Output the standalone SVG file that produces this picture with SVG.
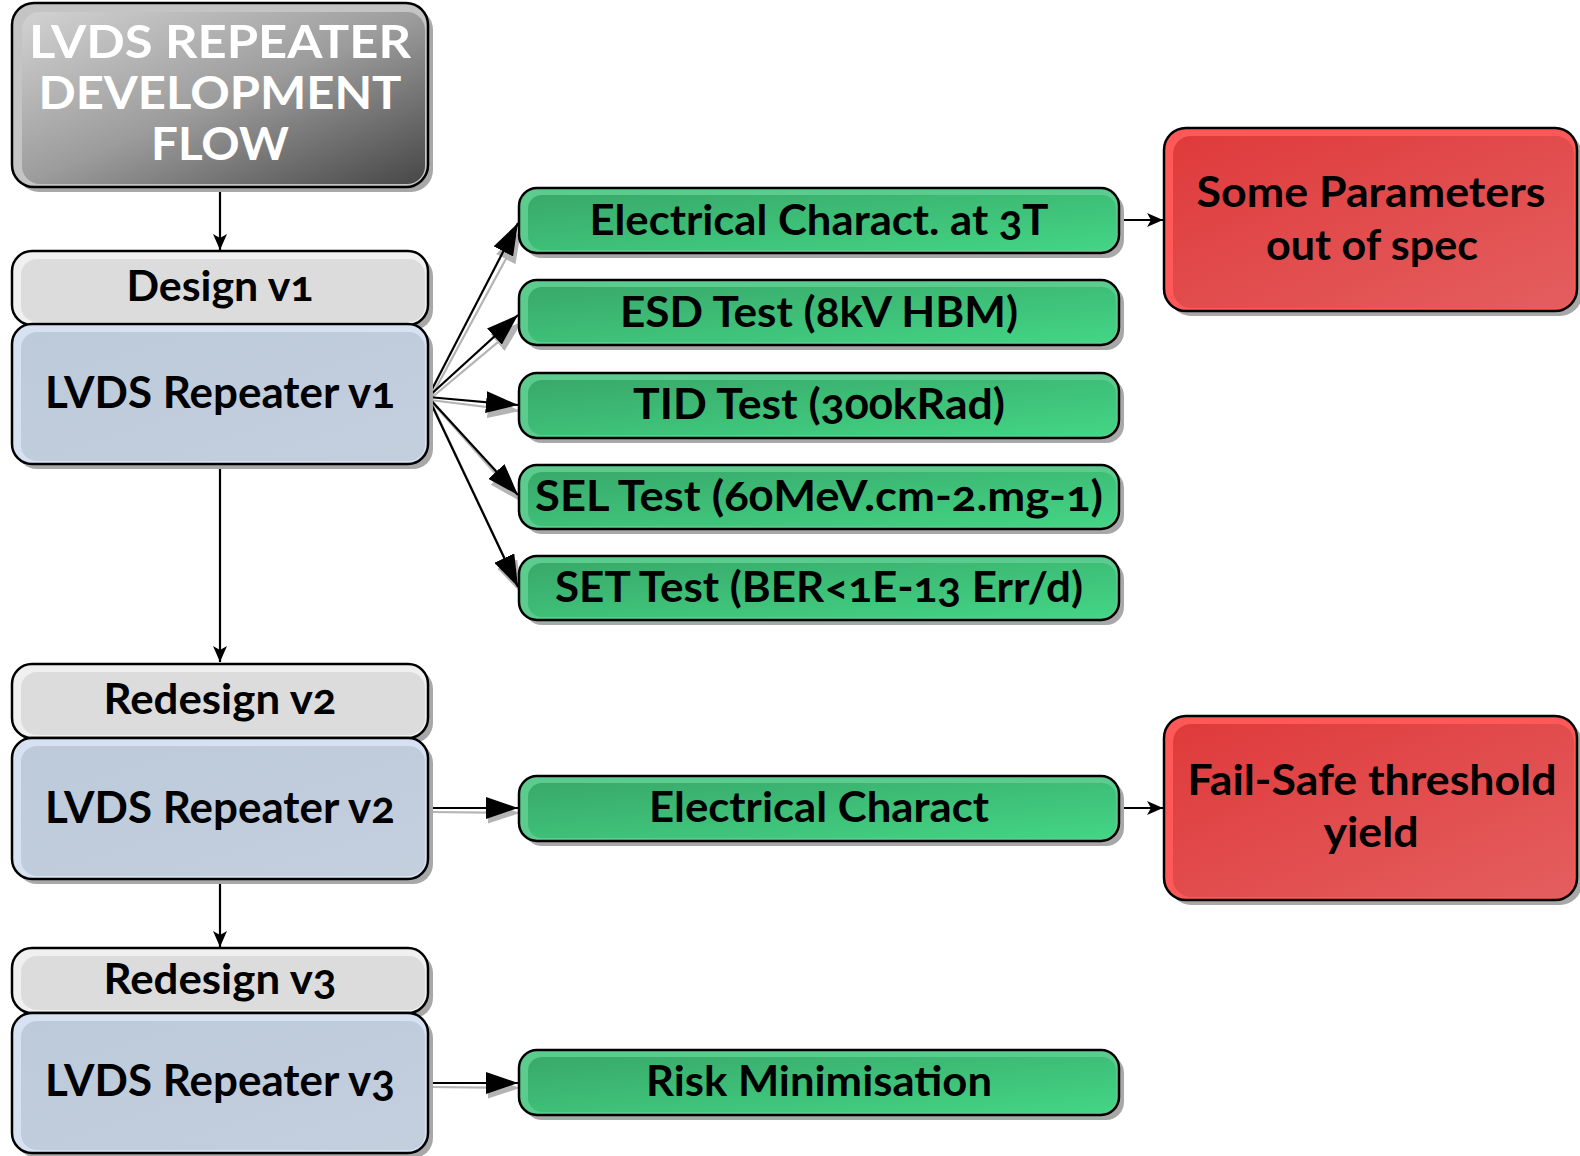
<svg xmlns="http://www.w3.org/2000/svg" width="1580" height="1156" viewBox="0 0 1580 1156">
  <style>
    .t { font-family: Lato, "Open Sans", "DejaVu Sans", sans-serif; font-weight: bold; fill: #000; text-anchor: middle; font-variant-numeric: oldstyle-nums; }
    .tw { fill: #ffffff; }
    .edge { fill: none; stroke: #000; stroke-width: 2.5; }
    .shadow { fill: #a8a8a8; }
    .link { fill: none; stroke: #000; stroke-width: 2.2; }
    .linkS { fill: none; stroke: #b4b4b4; stroke-width: 2.2; }
  </style>
  <defs>
    <linearGradient id="gTitle" x1="0" y1="0" x2="1" y2="1">
      <stop offset="0" stop-color="#d2d2d2"/>
      <stop offset="0.5" stop-color="#9c9c9c"/>
      <stop offset="1" stop-color="#474747"/>
    </linearGradient>
    <linearGradient id="gBlue" x1="0" y1="0" x2="1" y2="1">
      <stop offset="0" stop-color="#bccada"/>
      <stop offset="1" stop-color="#c4cfde"/>
    </linearGradient>
    <linearGradient id="gGreen" x1="0" y1="0" x2="1" y2="1">
      <stop offset="0" stop-color="#39a96a"/>
      <stop offset="1" stop-color="#43d585"/>
    </linearGradient>
    <linearGradient id="gRed" x1="0" y1="0" x2="1" y2="1">
      <stop offset="0" stop-color="#df3a3b"/>
      <stop offset="1" stop-color="#e45e5f"/>
    </linearGradient>
    <marker id="bigHead" markerUnits="userSpaceOnUse" markerWidth="32" markerHeight="22" refX="32" refY="11" orient="auto">
      <path d="M0,0 L32,11 L0,22 z" fill="#000"/>
    </marker>
    <marker id="bigHeadS" markerUnits="userSpaceOnUse" markerWidth="32" markerHeight="22" refX="32" refY="11" orient="auto">
      <path d="M0,0 L32,11 L0,22 z" fill="#b4b4b4"/>
    </marker>
    <marker id="smallHead" markerUnits="userSpaceOnUse" markerWidth="16" markerHeight="14" refX="16" refY="7" orient="auto">
      <path d="M0,0 L16,7 L0,14 L4,7 z" fill="#000"/>
    </marker>
  </defs>

  <rect width="1580" height="1156" fill="#ffffff"/>

  <!-- connectors -->
  <g id="connectors">
    <!-- soft copies under the fan-out arrows -->
    <line class="linkS" x1="430" y1="399" x2="521" y2="231" marker-end="url(#bigHeadS)"/>
    <line class="linkS" x1="430" y1="399" x2="522" y2="322" marker-end="url(#bigHeadS)"/>
    <line class="linkS" x1="430" y1="400" x2="520" y2="411" marker-end="url(#bigHeadS)"/>
    <line class="linkS" x1="430" y1="400" x2="520" y2="501" marker-end="url(#bigHeadS)"/>
    <line class="linkS" x1="430" y1="400" x2="521" y2="593" marker-end="url(#bigHeadS)"/>
    <line class="linkS" x1="430" y1="812" x2="520" y2="813" marker-end="url(#bigHeadS)"/>
    <line class="linkS" x1="430" y1="1087" x2="520" y2="1088" marker-end="url(#bigHeadS)"/>

    <line class="link" x1="220" y1="188" x2="220" y2="250" marker-end="url(#smallHead)"/>
    <line class="link" x1="220" y1="464" x2="220" y2="662" marker-end="url(#smallHead)"/>
    <line class="link" x1="220" y1="879" x2="220" y2="947" marker-end="url(#smallHead)"/>

    <line class="link" x1="428" y1="397" x2="518" y2="223" marker-end="url(#bigHead)"/>
    <line class="link" x1="428" y1="397" x2="518" y2="315" marker-end="url(#bigHead)"/>
    <line class="link" x1="428" y1="397" x2="518" y2="405" marker-end="url(#bigHead)"/>
    <line class="link" x1="428" y1="397" x2="518" y2="495" marker-end="url(#bigHead)"/>
    <line class="link" x1="428" y1="397" x2="518" y2="587" marker-end="url(#bigHead)"/>
    <line class="link" x1="428" y1="808" x2="518" y2="808" marker-end="url(#bigHead)"/>
    <line class="link" x1="428" y1="1083" x2="518" y2="1083" marker-end="url(#bigHead)"/>

    <line class="link" x1="1119" y1="220" x2="1163" y2="220" marker-end="url(#smallHead)"/>
    <line class="link" x1="1119" y1="808" x2="1163" y2="808" marker-end="url(#smallHead)"/>
  </g>

  <!-- title -->
  <g id="title">
    <rect class="shadow" x="17" y="8" width="416" height="184" rx="22"/>
    <rect x="12" y="3" width="416" height="184" rx="22" fill="#c4c4c4"/>
    <rect x="22" y="12" width="403" height="172" rx="18" fill="url(#gTitle)"/>
    <rect class="edge" x="12" y="3" width="416" height="184" rx="22"/>
    <text class="t tw" x="220" y="58" font-size="46" textLength="382" lengthAdjust="spacingAndGlyphs">LVDS REPEATER</text>
    <text class="t tw" x="220" y="109" font-size="46" textLength="363" lengthAdjust="spacingAndGlyphs">DEVELOPMENT</text>
    <text class="t tw" x="220" y="160" font-size="46" textLength="138" lengthAdjust="spacingAndGlyphs">FLOW</text>
  </g>

  <!-- version 1 -->
  <g id="design-v1">
    <rect class="shadow" x="17" y="256" width="416" height="74" rx="20"/>
    <rect x="12" y="251" width="416" height="74" rx="20" fill="#f0f0f0"/>
    <rect x="21" y="259" width="404" height="63" rx="16" fill="#dcdcdc"/>
    <rect class="edge" x="12" y="251" width="416" height="74" rx="20"/>
    <text class="t" x="220" y="301" font-size="42" textLength="187" lengthAdjust="spacingAndGlyphs">Design v1</text>
  </g>
  <g id="repeater-v1">
    <rect class="shadow" x="17" y="329" width="416" height="140" rx="20"/>
    <rect x="12" y="324" width="416" height="140" rx="20" fill="#d6e2f2"/>
    <rect x="21" y="332" width="404" height="129" rx="16" fill="url(#gBlue)"/>
    <rect class="edge" x="12" y="324" width="416" height="140" rx="20"/>
    <text class="t" x="220" y="408" font-size="43" textLength="350" lengthAdjust="spacingAndGlyphs">LVDS Repeater v1</text>
  </g>

  <!-- version 2 -->
  <g id="redesign-v2">
    <rect class="shadow" x="17" y="669" width="416" height="74" rx="20"/>
    <rect x="12" y="664" width="416" height="74" rx="20" fill="#f0f0f0"/>
    <rect x="21" y="672" width="404" height="63" rx="16" fill="#dcdcdc"/>
    <rect class="edge" x="12" y="664" width="416" height="74" rx="20"/>
    <text class="t" x="220" y="714" font-size="42" textLength="233" lengthAdjust="spacingAndGlyphs">Redesign v2</text>
  </g>
  <g id="repeater-v2">
    <rect class="shadow" x="17" y="743" width="416" height="141" rx="20"/>
    <rect x="12" y="738" width="416" height="141" rx="20" fill="#d6e2f2"/>
    <rect x="21" y="746" width="404" height="130" rx="16" fill="url(#gBlue)"/>
    <rect class="edge" x="12" y="738" width="416" height="141" rx="20"/>
    <text class="t" x="220" y="823" font-size="43" textLength="350" lengthAdjust="spacingAndGlyphs">LVDS Repeater v2</text>
  </g>

  <!-- version 3 -->
  <g id="redesign-v3">
    <rect class="shadow" x="17" y="953" width="416" height="65" rx="20"/>
    <rect x="12" y="948" width="416" height="65" rx="20" fill="#f0f0f0"/>
    <rect x="21" y="956" width="404" height="54" rx="16" fill="#dcdcdc"/>
    <rect class="edge" x="12" y="948" width="416" height="65" rx="20"/>
    <text class="t" x="220" y="994" font-size="42" textLength="233" lengthAdjust="spacingAndGlyphs">Redesign v3</text>
  </g>
  <g id="repeater-v3">
    <rect class="shadow" x="17" y="1018" width="416" height="140" rx="20"/>
    <rect x="12" y="1013" width="416" height="140" rx="20" fill="#d6e2f2"/>
    <rect x="21" y="1021" width="404" height="129" rx="16" fill="url(#gBlue)"/>
    <rect class="edge" x="12" y="1013" width="416" height="140" rx="20"/>
    <text class="t" x="220" y="1096" font-size="43" textLength="350" lengthAdjust="spacingAndGlyphs">LVDS Repeater v3</text>
  </g>

  <!-- test steps -->
  <g id="elec-3t">
    <rect class="shadow" x="524" y="193" width="600" height="65" rx="18"/>
    <rect x="519" y="188" width="600" height="65" rx="18" fill="#5ccc8e"/>
    <rect x="528" y="195" width="588" height="55" rx="14" fill="url(#gGreen)"/>
    <rect class="edge" x="519" y="188" width="600" height="65" rx="18"/>
    <text class="t" x="819" y="235" font-size="42" textLength="459" lengthAdjust="spacingAndGlyphs">Electrical Charact. at 3T</text>
  </g>
  <g id="esd">
    <rect class="shadow" x="524" y="285" width="600" height="65" rx="18"/>
    <rect x="519" y="280" width="600" height="65" rx="18" fill="#5ccc8e"/>
    <rect x="528" y="287" width="588" height="55" rx="14" fill="url(#gGreen)"/>
    <rect class="edge" x="519" y="280" width="600" height="65" rx="18"/>
    <text class="t" x="819" y="327" font-size="42" textLength="398" lengthAdjust="spacingAndGlyphs">ESD Test (8kV HBM)</text>
  </g>
  <g id="tid">
    <rect class="shadow" x="524" y="378" width="600" height="65" rx="18"/>
    <rect x="519" y="373" width="600" height="65" rx="18" fill="#5ccc8e"/>
    <rect x="528" y="380" width="588" height="55" rx="14" fill="url(#gGreen)"/>
    <rect class="edge" x="519" y="373" width="600" height="65" rx="18"/>
    <text class="t" x="819" y="419" font-size="42" textLength="372" lengthAdjust="spacingAndGlyphs">TID Test (300kRad)</text>
  </g>
  <g id="sel">
    <rect class="shadow" x="524" y="470" width="600" height="64" rx="18"/>
    <rect x="519" y="465" width="600" height="64" rx="18" fill="#5ccc8e"/>
    <rect x="528" y="472" width="588" height="54" rx="14" fill="url(#gGreen)"/>
    <rect class="edge" x="519" y="465" width="600" height="64" rx="18"/>
    <text class="t" x="819" y="511" font-size="42" textLength="568" lengthAdjust="spacingAndGlyphs">SEL Test (60MeV.cm-2.mg-1)</text>
  </g>
  <g id="set">
    <rect class="shadow" x="524" y="561" width="600" height="64" rx="18"/>
    <rect x="519" y="556" width="600" height="64" rx="18" fill="#5ccc8e"/>
    <rect x="528" y="563" width="588" height="54" rx="14" fill="url(#gGreen)"/>
    <rect class="edge" x="519" y="556" width="600" height="64" rx="18"/>
    <text class="t" x="819" y="602" font-size="42" textLength="528" lengthAdjust="spacingAndGlyphs">SET Test (BER&lt;1E-13 Err/d)</text>
  </g>
  <g id="elec-v2">
    <rect class="shadow" x="524" y="781" width="600" height="65" rx="18"/>
    <rect x="519" y="776" width="600" height="65" rx="18" fill="#5ccc8e"/>
    <rect x="528" y="783" width="588" height="55" rx="14" fill="url(#gGreen)"/>
    <rect class="edge" x="519" y="776" width="600" height="65" rx="18"/>
    <text class="t" x="819" y="822" font-size="42" textLength="340" lengthAdjust="spacingAndGlyphs">Electrical Charact</text>
  </g>
  <g id="risk">
    <rect class="shadow" x="524" y="1055" width="600" height="65" rx="18"/>
    <rect x="519" y="1050" width="600" height="65" rx="18" fill="#5ccc8e"/>
    <rect x="528" y="1057" width="588" height="55" rx="14" fill="url(#gGreen)"/>
    <rect class="edge" x="519" y="1050" width="600" height="65" rx="18"/>
    <text class="t" x="819" y="1096" font-size="42" textLength="346" lengthAdjust="spacingAndGlyphs">Risk Minimisation</text>
  </g>

  <!-- outcomes -->
  <g id="out-of-spec">
    <rect class="shadow" x="1169" y="133" width="413" height="183" rx="22"/>
    <rect x="1164" y="128" width="413" height="183" rx="22" fill="#ff5858"/>
    <rect x="1173" y="136" width="401" height="172" rx="18" fill="url(#gRed)"/>
    <rect class="edge" x="1164" y="128" width="413" height="183" rx="22"/>
    <text class="t" x="1371" y="207" font-size="42" textLength="349" lengthAdjust="spacingAndGlyphs">Some Parameters</text>
    <text class="t" x="1372" y="260" font-size="42" textLength="212" lengthAdjust="spacingAndGlyphs">out of spec</text>
  </g>
  <g id="failsafe">
    <rect class="shadow" x="1169" y="721" width="413" height="184" rx="22"/>
    <rect x="1164" y="716" width="413" height="184" rx="22" fill="#ff5858"/>
    <rect x="1173" y="724" width="401" height="173" rx="18" fill="url(#gRed)"/>
    <rect class="edge" x="1164" y="716" width="413" height="184" rx="22"/>
    <text class="t" x="1372" y="795" font-size="42" textLength="369" lengthAdjust="spacingAndGlyphs">Fail-Safe threshold</text>
    <text class="t" x="1371" y="847" font-size="42" textLength="95" lengthAdjust="spacingAndGlyphs">yield</text>
  </g>
</svg>
